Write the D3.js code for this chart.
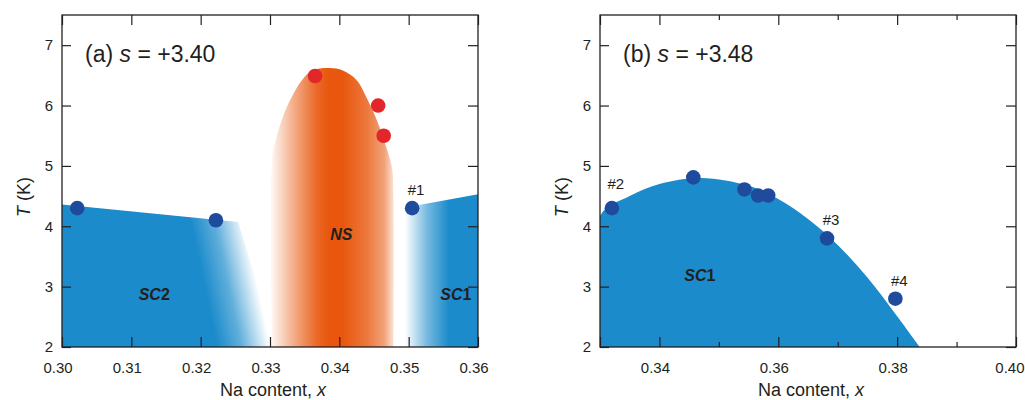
<!DOCTYPE html>
<html>
<head>
<meta charset="utf-8">
<script src="https://cdn.jsdelivr.net/npm/d3@7"></script>
<style>
  body { margin: 0; background: #fff; }
  text { font-family: "Liberation Sans", Arial, sans-serif; fill: #231f20; }
</style>
</head>
<body>
<svg width="1025" height="400"></svg>
<script>
// ---- data ----
// panel (a), s = +3.40
const aRedX = [0.3365, 0.3456, 0.3464];
const aRedT = [6.49, 6.0, 5.5];
const aBlueX = [0.3022, 0.3222, 0.3505];
const aBlueT = [4.3, 4.1, 4.3];
// phase regions of panel (a)
const aSc2X = [0.300, 0.300, 0.3254, 0.331];
const aSc2T = [2.0, 4.36, 4.07, 2.0];
const aSc1X = [0.3495, 0.3495, 0.3505, 0.360, 0.360];
const aSc1T = [2.0, 4.30, 4.33, 4.53, 2.0];
const aNsX = [0.3303, 0.3303, 0.3307, 0.3317, 0.3329, 0.3346, 0.3361, 0.3386, 0.3405, 0.3425, 0.3441, 0.3454, 0.3466, 0.3476, 0.3478, 0.3478];
const aNsT = [2.0, 5.09, 5.37, 5.76, 6.09, 6.42, 6.58, 6.62, 6.58, 6.42, 6.09, 5.76, 5.37, 4.97, 4.5, 2.0];

// panel (b), s = +3.48
const bBlueX = [0.3320, 0.3457, 0.3543, 0.3566, 0.3583, 0.3682, 0.3797];
const bBlueT = [4.3, 4.81, 4.61, 4.51, 4.51, 3.8, 2.8];
const bSc1X = [0.330, 0.335, 0.340, 0.347, 0.355, 0.360, 0.365, 0.370, 0.375, 0.380, 0.3838];
const bSc1T = [4.17, 4.50, 4.70, 4.80, 4.67, 4.45, 4.12, 3.69, 3.15, 2.51, 2.0];

// sample labels: [panel, index into blue points, text]
const sampleLabels = [["a", 2, "#1"], ["b", 0, "#2"], ["b", 5, "#3"], ["b", 6, "#4"]];

// axes
const tTicks = [2, 3, 4, 5, 6, 7];
const aXTicks = [0.30, 0.31, 0.32, 0.33, 0.34, 0.35, 0.36];
const bXTicks = [0.33, 0.34, 0.35, 0.36, 0.37, 0.38, 0.39, 0.40];
const bXLabels = [0.34, 0.36, 0.38, 0.40];

// ---- drawing ----
const svg = d3.select("svg");
const defs = svg.append("defs");
const plotTop = 15, plotBottom = 347;
const blue = "#1b8bcb", dotBlue = "#1f4b9c", red = "#e3262a", orange = "#e8570d";

const yScale = d3.scaleLinear().domain([2, 7.5]).range([plotBottom, plotTop]);
const xA = d3.scaleLinear().domain([0.30, 0.36]).range([62, 478]);
const xB = d3.scaleLinear().domain([0.33, 0.40]).range([600, 1016]);

function zip(xs, ts) { return xs.map((x, i) => [x, ts[i]]); }

function clip(id, x) {
  defs.append("clipPath").attr("id", id)
    .append("rect")
    .attr("x", x.range()[0]).attr("y", plotTop)
    .attr("width", x.range()[1] - x.range()[0]).attr("height", plotBottom - plotTop);
}
clip("clipA", xA);
clip("clipB", xB);

// gradients
// SC2: fades out along a slanted line
{
  const gx0 = xA(0.3185), gy0 = yScale(4.1);
  const gx1 = xA(0.3224), gy1 = yScale(2);
  const vx = gx1 - gx0, vy = gy1 - gy0, len = Math.hypot(vx, vy);
  const nx = vy / len, ny = -vx / len;
  const dist = (xA(0.3262) - xA(0.3185)) * vy / len;
  const g = defs.append("linearGradient").attr("id", "gSc2")
    .attr("gradientUnits", "userSpaceOnUse")
    .attr("x1", gx0).attr("y1", gy0)
    .attr("x2", gx0 + nx * dist).attr("y2", gy0 + ny * dist);
  [[0, 1], [0.45, 0.7], [1, 0]].forEach(s =>
    g.append("stop").attr("offset", s[0]).attr("stop-color", blue).attr("stop-opacity", s[1]));
}
{
  const g = defs.append("linearGradient").attr("id", "gSc1")
    .attr("gradientUnits", "userSpaceOnUse")
    .attr("x1", xA(0.3495)).attr("y1", 0).attr("x2", xA(0.3558)).attr("y2", 0);
  [[0, 0], [0.5, 0.6], [1, 1]].forEach(s =>
    g.append("stop").attr("offset", s[0]).attr("stop-color", blue).attr("stop-opacity", s[1]));
}
{
  const lo = 0.3303, hi = 0.3480;
  const g = defs.append("linearGradient").attr("id", "gNs")
    .attr("gradientUnits", "userSpaceOnUse")
    .attr("x1", xA(lo)).attr("y1", 0).attr("x2", xA(hi)).attr("y2", 0);
  [[0.3303, 0.06], [0.3335, 0.5], [0.3368, 0.9], [0.3385, 1], [0.3405, 1],
   [0.3440, 0.8], [0.3465, 0.55], [0.3480, 0.12]].forEach(s =>
    g.append("stop").attr("offset", (s[0] - lo) / (hi - lo))
      .attr("stop-color", orange).attr("stop-opacity", s[1]));
}

function panel(x, xTicks, labelFn, minorFn, title, letter) {
  const g = svg.append("g");
  const x0 = x.range()[0], x1 = x.range()[1];

  // ticks, all pointing inward
  g.append("g").attr("class", "xbottom").attr("transform", `translate(0,${plotBottom})`)
    .call(d3.axisBottom(x).tickValues(xTicks).tickSizeOuter(0).tickSizeInner(-10)
      .tickPadding(15).tickFormat(labelFn))
    .call(a => a.selectAll(".tick line").attr("y2", d => minorFn(d) ? -5 : -10))
    .call(a => a.selectAll(".tick text").attr("x", -4.5));
  g.append("g").attr("transform", `translate(0,${plotTop})`)
    .call(d3.axisTop(x).tickValues(xTicks).tickSizeOuter(0).tickSizeInner(-10).tickFormat(""))
    .call(a => a.selectAll(".tick line").attr("y2", d => minorFn(d) ? 5 : 10));
  g.append("g").attr("transform", `translate(${x0},0)`)
    .call(d3.axisLeft(yScale).tickValues(tTicks).tickSizeOuter(0).tickSizeInner(-9)
      .tickPadding(9).tickFormat(d3.format("d")));
  g.append("g").attr("transform", `translate(${x1},0)`)
    .call(d3.axisRight(yScale).tickValues(tTicks).tickSizeOuter(0).tickSizeInner(-10).tickFormat(""));
  g.selectAll(".domain").remove();
  g.selectAll(".tick line").attr("stroke", "#231f20").attr("stroke-width", 1.2);
  g.selectAll(".tick text").style("font-size", "15px")
    .style("font-family", "'Liberation Sans', Arial, sans-serif").attr("fill", "#231f20");

  g.append("rect").attr("x", x0).attr("y", plotTop)
    .attr("width", x1 - x0).attr("height", plotBottom - plotTop)
    .attr("fill", "none").attr("stroke", "#231f20").attr("stroke-width", 1.3);

  const t = g.append("text").attr("x", x0 + 23).attr("y", 62).style("font-size", "23px");
  t.append("tspan").text(`(${letter}) `);
  t.append("tspan").attr("font-style", "italic").text("s");
  t.append("tspan").text(` = ${title}`);

  const xl = g.append("text").attr("x", (x0 + x1) / 2 + 3).attr("y", 396)
    .attr("text-anchor", "middle").style("font-size", "18px");
  xl.append("tspan").text("Na content, ");
  xl.append("tspan").attr("font-style", "italic").text("x");

  const yl = g.append("text")
    .attr("transform", `translate(${x0 - 32},197) rotate(-90)`)
    .attr("text-anchor", "middle").style("font-size", "18px");
  yl.append("tspan").attr("font-style", "italic").text("T");
  yl.append("tspan").text(" (K)");
  return g;
}

function region(x, xs, ts, fill, clipId, curve) {
  const line = d3.line().x(d => x(d[0])).y(d => yScale(d[1])).curve(curve || d3.curveLinear);
  svg.append("path").attr("d", line(zip(xs, ts)) + "Z")
    .attr("fill", fill).attr("clip-path", `url(#${clipId})`);
}

function regionLabel(x, xv, tv, main, sub) {
  const t = svg.append("text").attr("x", x(xv)).attr("y", yScale(tv))
    .attr("text-anchor", "middle").style("font-size", "16px").attr("font-weight", "bold");
  t.append("tspan").attr("font-style", "italic").text(main);
  if (sub) t.append("tspan").text(sub);
}

function dots(x, xs, ts, color) {
  svg.append("g").selectAll("circle").data(zip(xs, ts)).join("circle")
    .attr("cx", d => x(d[0])).attr("cy", d => yScale(d[1])).attr("r", 7.3)
    .attr("fill", color);
}

// panel (a)
region(xA, aSc2X, aSc2T, "url(#gSc2)", "clipA");
region(xA, aSc1X, aSc1T, "url(#gSc1)", "clipA");
region(xA, aNsX, aNsT, "url(#gNs)", "clipA", d3.curveCatmullRom.alpha(0.5));
panel(xA, aXTicks, d3.format(".2f"), () => false, "+3.40", "a");
regionLabel(xA, 0.3133, 2.78, "SC", "2");
regionLabel(xA, 0.3568, 2.78, "SC", "1");
regionLabel(xA, 0.3403, 3.78, "NS");
dots(xA, aRedX, aRedT, red);
dots(xA, aBlueX, aBlueT, dotBlue);

// panel (b)
region(xB, [0.330].concat(bSc1X), [2.0].concat(bSc1T), blue, "clipB", d3.curveCatmullRom.alpha(0.5));
const pb = panel(xB, bXTicks,
  d => bXLabels.some(v => Math.abs(v - d) < 1e-6) ? d.toFixed(2) : "",
  d => !bXLabels.some(v => Math.abs(v - d) < 1e-6) && d > 0.335 && d < 0.395 && Math.round(d * 100) % 2 === 1,
  "+3.48", "b");
// last label sits at the window edge: pull it inside
pb.select(".xbottom").selectAll(".tick text")
  .filter(d => Math.abs(d - 0.40) < 1e-6)
  .attr("text-anchor", "end").attr("x", 8);
regionLabel(xB, 0.3468, 3.1, "SC", "1");
dots(xB, bBlueX, bBlueT, dotBlue);

// sample labels
sampleLabels.forEach(([p, i, txt]) => {
  const x = p === "a" ? xA : xB;
  const xs = p === "a" ? aBlueX : bBlueX;
  const ts = p === "a" ? aBlueT : bBlueT;
  const lift = txt === "#2" ? 19 : 13;
  svg.append("text").attr("x", x(xs[i]) + 4).attr("y", yScale(ts[i]) - lift)
    .attr("text-anchor", "middle").style("font-size", "15px").text(txt);
});
</script>
</body>
</html>
